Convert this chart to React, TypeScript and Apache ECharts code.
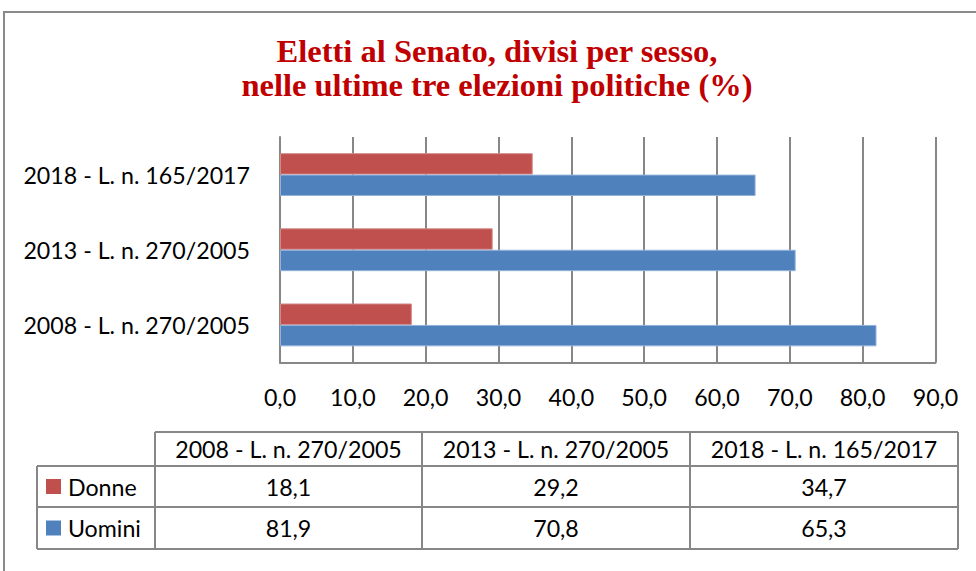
import React, { useEffect, useRef } from "react";
import * as echarts from "echarts";

const titleLines = [
  "Eletti al Senato, divisi per sesso,",
  "nelle ultime tre elezioni politiche (%)",
];
const categories = [
  "2008 - L. n. 270/2005",
  "2013 - L. n. 270/2005",
  "2018 - L. n. 165/2017",
];
const seriesNames = ["Donne", "Uomini"];
const donne = [18.1, 29.2, 34.7];
const uomini = [81.9, 70.8, 65.3];
const xMin = 0;
const xMax = 90;
const xInterval = 10;

const RED = "#C0504D";
const BLUE = "#4F81BD";
const GRID = "#878787";
const FONT = "Lato, Carlito, Calibri, sans-serif";
const TITLE_FONT = "'Liberation Serif', 'DejaVu Serif', serif";
const FS = 23.2;

const fmt = (v: number) => v.toFixed(1).replace(".", ",");

function buildGraphic() {
  const els: any[] = [];
  // outer frame
  els.push({
    type: "rect",
    shape: { x: 4, y: 12, width: 1100, height: 700 },
    style: { fill: "none", stroke: "#8A8A8A", lineWidth: 2 },
    silent: true,
  });
  // title
  const titleYs = [51, 85];
  titleLines.forEach((t, i) => {
    els.push({
      type: "text",
      x: 497,
      y: titleYs[i],
      style: {
        text: t,
        fill: "#C00000",
        fontFamily: TITLE_FONT,
        fontWeight: "bold",
        fontSize: 32.5,
        align: "center",
        verticalAlign: "middle",
      },
    });
  });

  // data table
  const colX = [37, 155, 422, 690, 958];
  const rowY = [432, 466, 507, 549];
  const line = (x1: number, y1: number, x2: number, y2: number) => ({
    type: "line",
    shape: { x1, y1, x2, y2 },
    style: { stroke: GRID, lineWidth: 2 },
    silent: true,
  });
  els.push(line(colX[1], rowY[0], colX[4], rowY[0]));
  for (let r = 1; r < rowY.length; r++) els.push(line(colX[0], rowY[r], colX[4], rowY[r]));
  els.push(line(colX[0], rowY[1], colX[0], rowY[3]));
  for (let c = 1; c < colX.length; c++) els.push(line(colX[c], rowY[0], colX[c], rowY[3]));

  const textEl = (text: string, x: number, y: number, align = "center") => ({
    type: "text",
    x,
    y,
    style: {
      text,
      fill: "#000",
      fontFamily: FONT,
      fontSize: FS,
      align,
      verticalAlign: "middle",
    },
  });
  categories.forEach((c, i) => {
    els.push(textEl(c, (colX[i + 1] + colX[i + 2]) / 2, (rowY[0] + rowY[1]) / 2));
  });
  const rowsData = [donne, uomini];
  const colors = [RED, BLUE];
  rowsData.forEach((vals, r) => {
    const cy = (rowY[r + 1] + rowY[r + 2]) / 2;
    els.push({
      type: "rect",
      shape: { x: 46, y: cy - 7.5, width: 15, height: 15 },
      style: { fill: colors[r] },
      silent: true,
    });
    els.push(textEl(seriesNames[r], 68, cy, "left"));
    vals.forEach((v, i) => {
      els.push(textEl(fmt(v), (colX[i + 1] + colX[i + 2]) / 2, cy));
    });
  });
  return els;
}

export default function App() {
  const ref = useRef<HTMLDivElement>(null);
  useEffect(() => {
    if (!ref.current) return;
    const chart = echarts.init(ref.current, undefined, { renderer: "svg" });
    chart.setOption({
      animation: false,
      backgroundColor: "#ffffff",
      grid: { left: 280, right: 40.5, top: 137, bottom: 208.5, containLabel: false },
      xAxis: {
        type: "value",
        min: xMin,
        max: xMax,
        interval: xInterval,
        axisLine: { show: true, lineStyle: { color: GRID, width: 2 } },
        axisTick: { show: false },
        splitLine: { show: true, lineStyle: { color: GRID, width: 2 } },
        axisLabel: {
          formatter: (v: number) => fmt(v),
          color: "#000",
          fontFamily: FONT,
          fontSize: FS,
          margin: 23,
        },
      },
      yAxis: {
        type: "category",
        data: categories,
        axisLine: { show: true, lineStyle: { color: GRID, width: 2 } },
        axisTick: { show: false },
        splitLine: { show: false },
        axisLabel: {
          color: "#000",
          fontFamily: FONT,
          fontSize: FS,
          margin: 30,
        },
      },
      series: [
        {
          name: seriesNames[0],
          type: "bar",
          data: donne,
          barCategoryGap: "43%",
          barGap: "0%",
          itemStyle: { color: RED, borderColor: "#D48A88", borderWidth: 1 },
        },
        {
          name: seriesNames[1],
          type: "bar",
          data: uomini,
          barCategoryGap: "43%",
          barGap: "0%",
          itemStyle: { color: BLUE, borderColor: "#93B1DA", borderWidth: 1 },
        },
      ],
      graphic: buildGraphic(),
    });
    return () => chart.dispose();
  }, []);
  return (
    <div
      ref={ref}
      style={{ position: "fixed", left: 0, top: 0, width: 976, height: 571 }}
    />
  );
}
